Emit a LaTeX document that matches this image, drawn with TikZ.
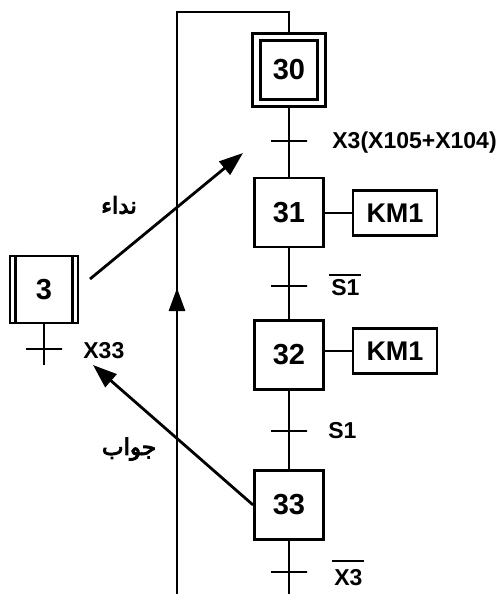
\documentclass[tikz,border=0pt]{standalone}
\usepackage{fontspec}
\setmainfont{Liberation Sans}
\newfontfamily\arabicfont[Script=Arabic,FakeBold=4]{DejaVu Sans}
\TeXXeTstate=1
\usetikzlibrary{arrows.meta,positioning,calc}
% negated condition: bar over the signal name
\newcommand\barsig[2][3pt]{\vbox{\hrule height 2pt\kern#1\hbox{\kern2pt#2\kern1pt}}}

\begin{document}
\begin{tikzpicture}%
  [x=1pt, y=-1pt,
   >={Triangle[length=24pt,width=17pt]},
   line width=2.8pt,
   on grid,
   stepbox/.style={draw, rectangle, minimum width=69pt, minimum height=69pt, inner sep=0pt,
                   font=\fontsize{29}{32}\selectfont\bfseries},
   initbox/.style={stepbox, double, double distance=4.5pt, outer sep=5pt,
                   minimum width=65pt, minimum height=66pt},
   actbox/.style={draw, rectangle, minimum width=84pt, minimum height=45pt, inner sep=0pt,
                  font=\fontsize{27}{30}\selectfont\bfseries},
   trans/.style={draw, rectangle, minimum width=36pt, minimum height=0pt, inner sep=0pt},
   cond/.style={anchor=base west, inner sep=0pt, font=\fontsize{23}{25}\selectfont\bfseries},
   msg/.style={inner sep=0pt, font=\arabicfont\fontsize{23}{27}\selectfont}
  ]
\useasboundingbox (0,0) rectangle (501,594);

% main grafcet
\node[initbox]  (s30) at (289,70)           {30};
\node[trans]    (t1)  [below=71pt of s30]   {};
\node[stepbox]  (s31) [below=71.5pt of t1]  {31};
\node[trans]    (t2)  [below=73.5pt of s31] {};
\node[stepbox]  (s32) [below=69pt of t2]    {32};
\node[trans]    (t3)  [below=76pt of s32]   {};
\node[stepbox]  (s33) [below=74pt of t3]    {33};
\node[trans]    (t4)  [below=67pt of s33]   {};
\node[actbox]   (a31) at (395,213)          {KM1};
\node[actbox]   (a32) at (395,351)          {KM1};

% conditions
\node[cond] (c1) at (331,148) {X3(X105+X104)};
\node[cond] (c2) at (328,295) {\barsig{S1}};
\node[cond] (c3) at (327,438) {S1};
\node[cond] (c4) at (331,585) {\barsig[7pt]{X3}};

% partner step
\node[stepbox, minimum width=68pt, minimum height=67pt] (s3) at (44,289.5) {3};
\node[trans]    (t0)  [below=59.5pt of s3]  {};
\node[cond]     (c0)  at (82,358)           {X33};
\coordinate (s3end) at ($(t0)+(0,16)$);
\draw ($(s3.north west)+(7,0)$) -- ($(s3.south west)+(7,0)$)
      ($(s3.north east)+(-7,0)$) -- ($(s3.south east)+(-7,0)$);

% loop back
\coordinate (looptop)  at (s30.north |- 0,12);
\coordinate (loopleft) at (177,12);
\coordinate (loopbot)  at (177,594);
\coordinate (loopmid)  at (177,288);
\coordinate (mainbot)  at (s30 |- loopbot);

% messages
\coordinate (callstart)  at (90,279);
\coordinate (callend)    at (243,153);
\coordinate (answerend)  at (93,365);
\node[msg] (m1) at (119,205) {\beginR نداء\endR};
\node[msg] (m2) at (129,449) {\beginR جواب\endR};

\path[draw]
%   FROM         TO
   (s30)    edge (t1)
   (t1)     edge (s31)
   (s31)    edge (t2)
   (t2)     edge (s32)
   (s32)    edge (t3)
   (t3)     edge (s33)
   (s33)    edge (t4)
   (t4)     edge (mainbot)
   (a31.west -| s31.east) edge (a31)
   (a32.west -| s32.east) edge (a32)
   (s3)     edge (t0)
   (t0)     edge (s3end)
   ;
\draw (s30) -- (looptop) -- (loopleft) -- (loopbot);

\path[->]
   (loopbot)   edge[-{Triangle[length=23pt,width=16pt]}] (loopmid)
   (callstart) edge (callend)
   (s33.west)  edge (answerend)
   ;
\end{tikzpicture}
\end{document}
